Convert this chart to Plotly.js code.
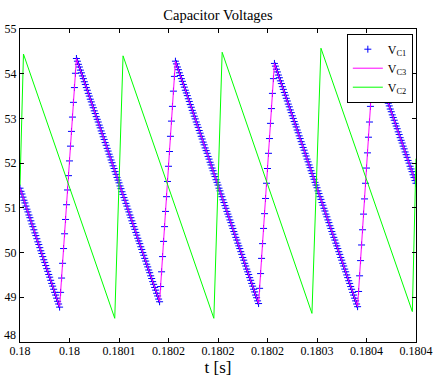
<!DOCTYPE html>
<html>
<head>
<meta charset="utf-8">
<script src="https://cdn.plot.ly/plotly-3.0.1.min.js"></script>
<style>html,body{margin:0;padding:0;background:#fff;}#chart{width:433px;height:377px;}</style>
</head>
<body>
<div id="chart"></div>
<script>
// Sampling of V_C1 markers: start time and step (s)
const t0 = 0.18;
const dt = 1e-6;

// V_C1 samples (V), one per microsecond from 0.18 s to 0.1804 s
const vC1 = [
  51.44,51.37,51.31,51.24,51.17,51.11,51.04,50.97,50.91,50.84,50.78,50.71,50.64,50.58,50.51,50.44,50.38,50.31,50.24,50.18,
  50.11,50.04,49.98,49.91,49.84,49.78,49.71,49.64,49.58,49.51,49.45,49.38,49.31,49.25,49.18,49.11,49.05,48.98,48.91,48.85,48.78,
  49.11,49.43,49.76,50.09,50.42,50.74,51.07,51.40,51.72,52.05,52.38,52.71,53.03,53.36,53.69,54.01,54.34,
  54.28,54.21,54.15,54.08,54.02,53.95,53.89,53.82,53.76,53.69,53.63,53.56,53.50,53.43,53.37,53.30,53.24,53.17,53.11,53.04,
  52.98,52.92,52.85,52.79,52.72,52.66,52.59,52.53,52.46,52.40,52.33,52.27,52.20,52.14,52.07,52.01,51.94,51.88,51.81,51.75,
  51.68,51.62,51.56,51.49,51.43,51.36,51.30,51.23,51.17,51.10,51.04,50.97,50.91,50.84,50.78,50.71,50.65,50.58,50.52,50.45,
  50.39,50.32,50.26,50.20,50.13,50.07,50.00,49.94,49.87,49.81,49.74,49.68,49.61,49.55,49.48,49.42,49.35,49.29,49.22,49.16,
  49.09,49.03,48.96,48.90,
  49.24,49.57,49.91,50.25,50.58,50.92,51.25,51.59,51.93,52.26,52.60,52.94,53.27,53.61,53.94,54.28,
  54.22,54.15,54.09,54.02,53.96,53.89,53.83,53.76,53.70,53.63,53.57,53.51,53.44,53.38,53.31,53.25,53.18,53.12,53.05,52.99,
  52.92,52.86,52.80,52.73,52.67,52.60,52.54,52.47,52.41,52.34,52.28,52.22,52.15,52.09,52.02,51.96,51.89,51.83,51.76,51.70,
  51.63,51.57,51.51,51.44,51.38,51.31,51.25,51.18,51.12,51.05,50.99,50.92,50.86,50.80,50.73,50.67,50.60,50.54,50.47,50.41,
  50.34,50.28,50.21,50.15,50.09,50.02,49.96,49.89,49.83,49.76,49.70,49.63,49.57,49.51,49.44,49.38,49.31,49.25,49.18,49.12,
  49.05,48.99,48.92,48.86,
  49.20,49.53,49.87,50.20,50.54,50.87,51.21,51.55,51.88,52.22,52.55,52.89,53.22,53.56,53.89,54.23,
  54.17,54.10,54.04,53.97,53.91,53.84,53.78,53.71,53.65,53.58,53.52,53.45,53.39,53.32,53.26,53.19,53.13,53.06,53.00,52.93,
  52.87,52.81,52.74,52.68,52.61,52.55,52.48,52.42,52.35,52.29,52.22,52.16,52.09,52.03,51.96,51.90,51.83,51.77,51.70,51.64,
  51.57,51.51,51.45,51.38,51.32,51.25,51.19,51.12,51.06,50.99,50.93,50.86,50.80,50.73,50.67,50.60,50.54,50.47,50.41,50.34,
  50.28,50.21,50.15,50.09,50.02,49.96,49.89,49.83,49.76,49.70,49.63,49.57,49.50,49.44,49.37,49.31,49.24,49.18,49.11,49.05,
  48.98,48.92,48.85,48.79,
  49.13,49.48,49.82,50.17,50.51,50.86,51.20,51.55,51.89,52.23,52.58,52.92,53.27,53.61,53.96,54.30,
  54.24,54.17,54.11,54.04,53.98,53.92,53.85,53.79,53.72,53.66,53.60,53.53,53.47,53.40,53.34,53.28,53.21,53.15,53.08,53.02,
  52.96,52.89,52.83,52.77,52.70,52.64,52.57,52.51,52.45,52.38,52.32,52.25,52.19,52.13,52.06,52.00,51.93,51.87,51.81,51.74,
  51.68,51.61,51.55
];

// V_C3 (line) vertices: time in microseconds after 0.18 s, value in V
const tC3_us = [0, 40, 57, 141, 157, 241, 257, 341, 357, 400];
const vC3 = [51.44, 48.78, 54.34, 48.90, 54.28, 48.86, 54.23, 48.79, 54.30, 51.55];

// V_C2 (line) vertices
const tC2_us = [0, 3.5, 95.7, 104.1, 195.8, 204.2, 294.9, 304.0, 396.3, 400];
const vC2 = [51.50, 54.44, 48.53, 54.40, 48.53, 54.48, 48.64, 54.57, 48.68, 52.10];

// Axis ticks
const xTickVals = [0.18, 0.18005, 0.1801, 0.18015, 0.1802, 0.18025, 0.1803, 0.18035, 0.1804];
const xTickText = ['0.18', '0.18', '0.1801', '0.1802', '0.1802', '0.1802', '0.1803', '0.1804', '0.1804'];
const yTickVals = [48, 49, 50, 51, 52, 53, 54, 55];
const yTickText = ['', '49', '50', '51', '52', '53', '54', '55'];
const yBottomLabel = '48';   // drawn raised, as in the reference, to clear the x labels

const toSec = us => us.map(u => t0 + u * 1e-6);

const FONT = 'Liberation Serif, Times New Roman, serif';

const traces = [
  {
    type: 'scatter', mode: 'markers', name: 'V<sub>C1</sub>',
    y: vC1, x0: t0, dx: dt,
    marker: { symbol: 'cross-thin', size: 5, color: '#0000ff', line: { color: '#0000ff', width: 1 } }
  },
  {
    type: 'scatter', mode: 'lines', name: 'V<sub>C3</sub>',
    x: toSec(tC3_us), y: vC3,
    line: { color: '#ff00ff', width: 1 }
  },
  {
    type: 'scatter', mode: 'lines', name: 'V<sub>C2</sub>',
    x: toSec(tC2_us), y: vC2,
    line: { color: '#00ff00', width: 1 }
  }
];

const layout = {
  width: 433, height: 377,
  margin: { l: 20, r: 17, t: 29, b: 35, pad: 0 },
  paper_bgcolor: '#fff', plot_bgcolor: '#fff',
  font: { family: FONT, size: 12, color: '#000' },
  showlegend: true,
  title: {
    text: 'Capacitor Voltages',
    font: { family: FONT, size: 14.5, color: '#000' },
    x: 0.5, xref: 'paper', y: 1 - 15 / 377, yref: 'container', yanchor: 'middle'
  },
  xaxis: {
    range: [0.18, 0.1804],
    tickmode: 'array', tickvals: xTickVals, ticktext: xTickText,
    ticks: 'inside', ticklen: 4, tickwidth: 1, tickcolor: '#000',
    showline: true, linecolor: '#000', linewidth: 1, mirror: 'ticks',
    showgrid: false, zeroline: false,
    tickfont: { family: FONT, size: 12, color: '#000' },
    ticklabelstandoff: -2,
    title: { text: 't [s]', font: { family: FONT, size: 17, color: '#000' }, standoff: 4 },
    automargin: false
  },
  yaxis: {
    range: [48, 55],
    tickmode: 'array', tickvals: yTickVals, ticktext: yTickText,
    ticks: 'inside', ticklen: 4, tickwidth: 1, tickcolor: '#000',
    showline: true, linecolor: '#000', linewidth: 1, mirror: 'ticks',
    showgrid: false, zeroline: false,
    tickfont: { family: FONT, size: 12, color: '#000' },
    automargin: false
  },
  annotations: [{
    text: yBottomLabel, xref: 'paper', x: 0, yref: 'y', y: yTickVals[0],
    xanchor: 'right', yanchor: 'middle', xshift: -2, yshift: 7,
    showarrow: false, font: { family: FONT, size: 12, color: '#000' }
  }],
  legend: {
    x: 0.992, xanchor: 'right', y: 0.985, yanchor: 'top',
    bgcolor: '#fff', bordercolor: '#000', borderwidth: 1,
    font: { family: FONT, size: 12, color: '#000' },
    tracegroupgap: 0
  }
};

Plotly.newPlot('chart', traces, layout, { displayModeBar: false, staticPlot: true });
</script>
</body>
</html>
